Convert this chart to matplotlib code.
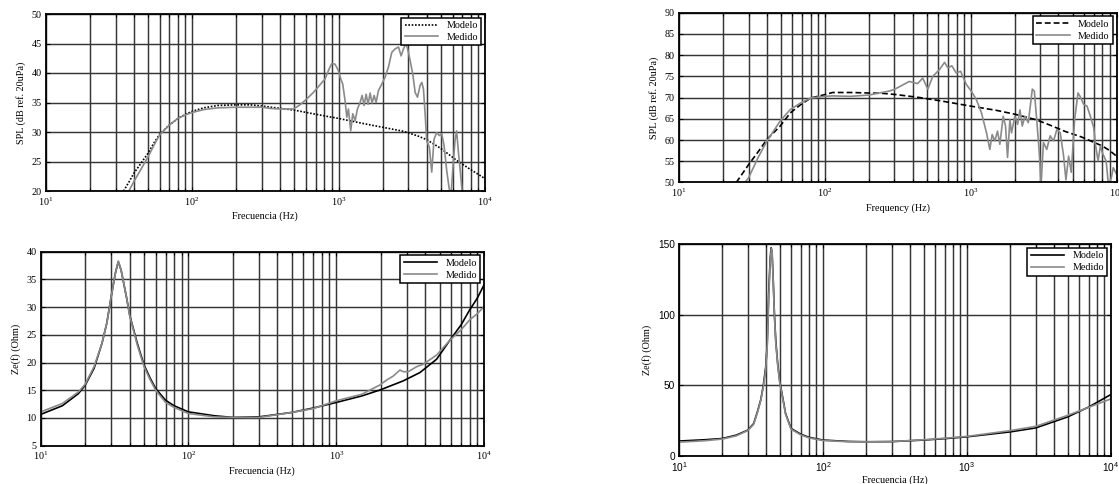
import math
import matplotlib
matplotlib.use("Agg")
import matplotlib.pyplot as plt
from matplotlib.ticker import FixedLocator, FuncFormatter, NullFormatter

# ---------------- data ----------------
# Top-left: SPL (driver 1)
tl_model_f = [34, 37, 40, 45, 50, 55, 60, 70, 80, 90, 100, 120, 150, 200, 250, 300, 400, 500,
              700, 1000, 1500, 2000, 2800, 3500, 4000, 5000, 6400, 7900, 10000]
tl_model_v = [20, 21.5, 23, 24.8, 26.4, 28.2, 29.6, 31.2, 32.3, 33.0, 33.5, 34.1, 34.5, 34.6, 34.6,
              34.4, 34.0, 33.7, 33.0, 32.3, 31.4, 30.8, 30.1, 29.3, 28.7, 27.2, 25.2, 23.7, 22.1]
tl_meas_f = [37, 40, 45, 50, 55, 60, 70, 80, 90, 100, 120, 150, 200, 300, 340, 398, 491, 545, 606,
             673, 747, 809, 852, 898, 946, 997, 1035, 1068, 1108, 1138, 1167, 1211, 1250, 1297,
             1345, 1403, 1448, 1494, 1542, 1591, 1642, 1694, 1749, 1804, 1871, 1972, 2078, 2191,
             2309, 2434, 2565, 2675, 2774, 2892, 3000, 3081, 3213, 3334, 3459, 3606, 3700, 3799,
             3900, 4001, 4172, 4327, 4488, 4679, 4882, 5067, 5253, 5481, 5680, 5850, 6015, 6238,
             6400, 6600, 6810, 7030]
tl_meas_v = [20, 21.6, 23.8, 25.8, 27.8, 29.5, 31.2, 32.3, 32.9, 33.3, 33.8, 34.1, 34.2, 34.2, 34.0,
             33.9, 33.9, 34.6, 35.6, 36.7, 38.0, 39.0, 40.4, 41.6, 41.5, 40.4, 39.0, 38.1, 35.3,
             32.5, 33.9, 30.2, 33.1, 31.9, 33.9, 35.0, 36.2, 34.5, 36.4, 34.7, 36.6, 34.9, 36.2,
             35.0, 37.0, 38.1, 39.3, 41.0, 43.5, 44.1, 44.4, 42.9, 44.1, 45.0, 43.5, 42.1, 39.8,
             36.7, 35.9, 37.9, 38.4, 37.3, 33.1, 28.5, 27.4, 23.2, 28.8, 29.9, 29.4, 29.7, 27.7,
             23.4, 20.6, 19.0, 23.4, 28.5, 30.2, 26.3, 22.9, 19.0]

# Top-right: SPL (driver 2)
tr_model_f = [24.7, 30, 35, 40, 49.4, 58, 68, 80, 100, 113, 150, 250, 310, 450, 630, 1000, 1500,
              2000, 2800, 3450, 4470, 5780, 6950, 8000, 9000, 10000]
tr_model_v = [50, 54.2, 57.3, 60.1, 63.3, 66.4, 68.3, 69.9, 70.7, 71.2, 71.2, 71.0, 70.7, 70.0,
              69.2, 68.0, 67.0, 66.1, 64.8, 63.6, 62.0, 60.7, 59.5, 58.6, 57.5, 56.2]
tr_meas_f = [28.3, 30, 35, 40, 49.4, 58, 68, 80, 100, 113, 150, 200, 273, 299, 379, 433, 469, 508,
             550, 611, 662, 698, 743, 796, 853, 934, 1011, 1095, 1186, 1284, 1353, 1404, 1464,
             1528, 1585, 1671, 1734, 1790, 1858, 1906, 2010, 2097, 2177, 2259, 2356, 2484, 2647,
             2733, 2837, 2943, 3040, 3155, 3326, 3508, 3700, 3902, 4115, 4339, 4500, 4695, 4896,
             5163, 5444, 5646, 5954, 6278, 6620, 6981, 7165, 7475, 7752, 8000, 8500, 8800, 9200,
             9500, 10000]
tr_meas_v = [50, 51.1, 56.0, 59.7, 64.5, 67.2, 68.7, 69.9, 70.3, 70.4, 70.3, 70.6, 71.5, 71.9,
             73.8, 73.3, 74.6, 72.0, 75.0, 76.6, 78.3, 77.0, 77.5, 75.8, 76.2, 73.1, 71.5, 69.5,
             66.4, 61.7, 57.8, 61.3, 59.8, 62.1, 59.0, 65.6, 63.3, 55.9, 64.8, 61.7, 65.6, 63.7,
             67.1, 63.3, 65.6, 64.1, 72.0, 71.5, 64.8, 57.8, 49.5, 59.4, 57.8, 61.0, 59.8, 62.5,
             61.7, 56.2, 50.6, 56.2, 52.4, 64.8, 71.1, 70.2, 68.4, 68.0, 65.6, 62.9, 59.0, 55.1,
             58.6, 57.0, 55.0, 49.5, 51.0, 53.5, 52.0]

# Bottom-left: impedance (driver 1)
bl_model_f = [10, 14, 18, 20, 23, 26, 28, 30, 32, 33.5, 35, 38, 40, 45, 50, 55, 60, 70, 80, 100,
              150, 200, 300, 500, 700, 1000, 1500, 2000, 2843, 3686, 4777, 5886, 7000, 8000,
              9000, 10000]
bl_model_v = [10.65, 12.2, 14.4, 15.9, 19.0, 23.5, 27.1, 31.9, 36.1, 38.2, 36.7, 31.9, 28.6, 23.5,
              19.6, 17.2, 15.3, 13.2, 12.2, 11.1, 10.4, 10.1, 10.2, 11.0, 11.8, 12.8, 14.0, 15.1,
              16.7, 18.2, 20.6, 24.05, 26.8, 29.5, 31.6, 34.0]
bl_meas_f = [10, 14, 18, 20, 23, 26, 28, 30, 32, 33.5, 35, 38, 40, 45, 50, 55, 60, 70, 80, 100,
             150, 200, 300, 500, 700, 1000, 1500, 1690, 1977, 2193, 2433, 2699, 2843, 3072, 3499,
             3882, 4777, 5886, 7000, 8000, 9000, 10000]
bl_meas_v = [11.1, 12.6, 14.7, 16.1, 19.3, 23.5, 27.1, 31.9, 36.1, 38.3, 36.7, 31.9, 28.5, 23.2,
             19.3, 16.9, 15.0, 12.8, 11.9, 10.8, 10.2, 10.1, 10.1, 11.0, 11.7, 13.1, 14.3, 15.05,
             15.95, 16.85, 17.57, 18.65, 18.35, 18.35, 19.25, 19.7, 21.35, 24.05, 25.9, 27.7,
             28.8, 30.1]

# Bottom-right: impedance (driver 2)
br_model_f = [10, 15, 20, 25, 30, 33, 35, 37, 38.5, 40, 41, 42, 43, 43.6, 44.2, 45, 46, 47, 48.5,
              50, 55, 60, 70, 80, 100, 150, 200, 300, 500, 700, 1000, 2000, 3000, 5000, 7000,
              10000]
br_model_v = [10.6, 11.5, 12.4, 14.8, 18.3, 23.0, 31.2, 40.0, 50.0, 62.8, 80.0, 116.7, 140.0, 147.5,
              145.0, 128.0, 100.0, 81.6, 65.0, 53.4, 30.0, 19.5, 15.5, 13.2, 11.3, 10.3, 10.1,
              10.2, 11.3, 12.3, 13.6, 17.1, 19.9, 27.7, 34.7, 43.6]
br_meas_f = [10, 15, 20, 25, 30, 33, 35, 37, 38.5, 40, 41, 42, 43, 43.8, 44.4, 45, 46, 47, 48.5,
             50, 55, 60, 70, 80, 100, 150, 200, 300, 500, 700, 1000, 2000, 3000, 5000, 7000,
             10000]
br_meas_v = [9.8, 10.8, 12.0, 14.3, 18.0, 22.5, 30.5, 39.5, 49.0, 61.0, 78.0, 112.0, 138.0, 147.0,
             144.0, 127.0, 99.0, 80.0, 64.0, 52.5, 29.5, 19.0, 15.0, 12.8, 11.0, 10.1, 10.0,
             10.2, 11.5, 12.6, 13.9, 18.0, 21.0, 28.8, 34.5, 40.5]

legend_labels = ["Modelo", "Medido"]
# --------------------------------------

SERIF = ["Liberation Serif", "DejaVu Serif"]
SANS = ["Liberation Sans", "DejaVu Sans"]
plt.rcParams["font.family"] = SERIF
plt.rcParams["mathtext.fontset"] = "custom"
plt.rcParams["mathtext.rm"] = "Liberation Serif"
plt.rcParams["mathtext.sf"] = "Liberation Sans"

W, H = 1119, 484
fig = plt.figure(figsize=(W / 100, H / 100), dpi=100)


def box(l, r, t, b):
    return [l / W, 1 - b / H, (r - l) / W, (b - t) / H]


GRID = "#363636"
MEAS = "#8a8a8a"
FS = 7.3


def decade_fmt(x, pos):
    e = int(round(math.log10(x)))
    return r"$\mathregular{10^{%d}}$" % e


def decade_fmt_sans(x, pos):
    e = int(round(math.log10(x)))
    return r"$\mathsf{10^{%d}}$" % e


def setup(ax, ylim, yticks, ylabel, xlabel, sans_ticks=False):
    ax.set_xscale("log")
    ax.set_xlim(10, 10000)
    ax.set_ylim(*ylim)
    ax.set_yticks(yticks)
    ax.xaxis.set_major_locator(FixedLocator([10, 100, 1000, 10000]))
    minors = [m * d for d in (10, 100, 1000) for m in range(2, 10)]
    ax.xaxis.set_minor_locator(FixedLocator(minors))
    ax.xaxis.set_minor_formatter(NullFormatter())
    ax.xaxis.set_major_formatter(FuncFormatter(decade_fmt_sans if sans_ticks else decade_fmt))
    ax.grid(True, which="major", axis="both", color=GRID, lw=1.05, ls="-")
    ax.grid(True, which="minor", axis="x", color=GRID, lw=1.05, ls="-")
    ax.set_axisbelow(True)
    ax.tick_params(which="both", direction="in", top=True, right=True, labelsize=FS,
                   length=3, width=0.8, pad=3)
    ax.tick_params(which="minor", length=2)
    for s in ax.spines.values():
        s.set_linewidth(1.3)
        s.set_color("black")
    ax.set_ylabel(ylabel, fontsize=FS, labelpad=4)
    ax.set_xlabel(xlabel, fontsize=FS, labelpad=3)
    if sans_ticks:
        for lab in ax.get_yticklabels():
            lab.set_family(SANS)


def legend(ax):
    leg = ax.legend(legend_labels, loc="upper right", fontsize=FS, fancybox=False,
                    edgecolor="black", framealpha=1, borderaxespad=0.35, handlelength=3.3,
                    handletextpad=0.8, borderpad=0.35, labelspacing=0.25)
    leg.get_frame().set_linewidth(1.1)
    leg.set_zorder(5)


# Top-left
ax1 = fig.add_axes(box(45.7, 485, 14, 191))
ax1.plot(tl_model_f, tl_model_v, color="black", ls=(0, (1, 1)), lw=1.2)
ax1.plot(tl_meas_f, tl_meas_v, color=MEAS, lw=1.2)
setup(ax1, (20, 50), range(20, 51, 5), "SPL (dB ref. 20uPa)", "Frecuencia (Hz)")
legend(ax1)

# Top-right
ax2 = fig.add_axes(box(679, 1116.5, 12.7, 182.5))
ax2.plot(tr_model_f, tr_model_v, color="black", ls=(0, (3.5, 1.8)), lw=1.2)
ax2.plot(tr_meas_f, tr_meas_v, color=MEAS, lw=1.2)
setup(ax2, (50, 90), range(50, 91, 5), "SPL (dB ref. 20uPa)", "Frequency (Hz)")
legend(ax2)

# Bottom-left
ax3 = fig.add_axes(box(40.7, 484, 251.7, 445.7))
ax3.plot(bl_model_f, bl_model_v, color="black", lw=1.2)
ax3.plot(bl_meas_f, bl_meas_v, color=MEAS, lw=1.2)
setup(ax3, (5, 40), range(5, 41, 5), "Ze(f) (Ohm)", "Frecuencia (Hz)")
legend(ax3)

# Bottom-right
ax4 = fig.add_axes(box(679, 1111, 244.3, 456))
ax4.plot(br_model_f, br_model_v, color="black", lw=1.2)
ax4.plot(br_meas_f, br_meas_v, color=MEAS, lw=1.2)
setup(ax4, (0, 150), [0, 50, 100, 150], "Ze(f) (Ohm)", "Frecuencia (Hz)", sans_ticks=True)
ax4.xaxis.labelpad = 1
legend(ax4)

fig.savefig("out.png", dpi=100)
